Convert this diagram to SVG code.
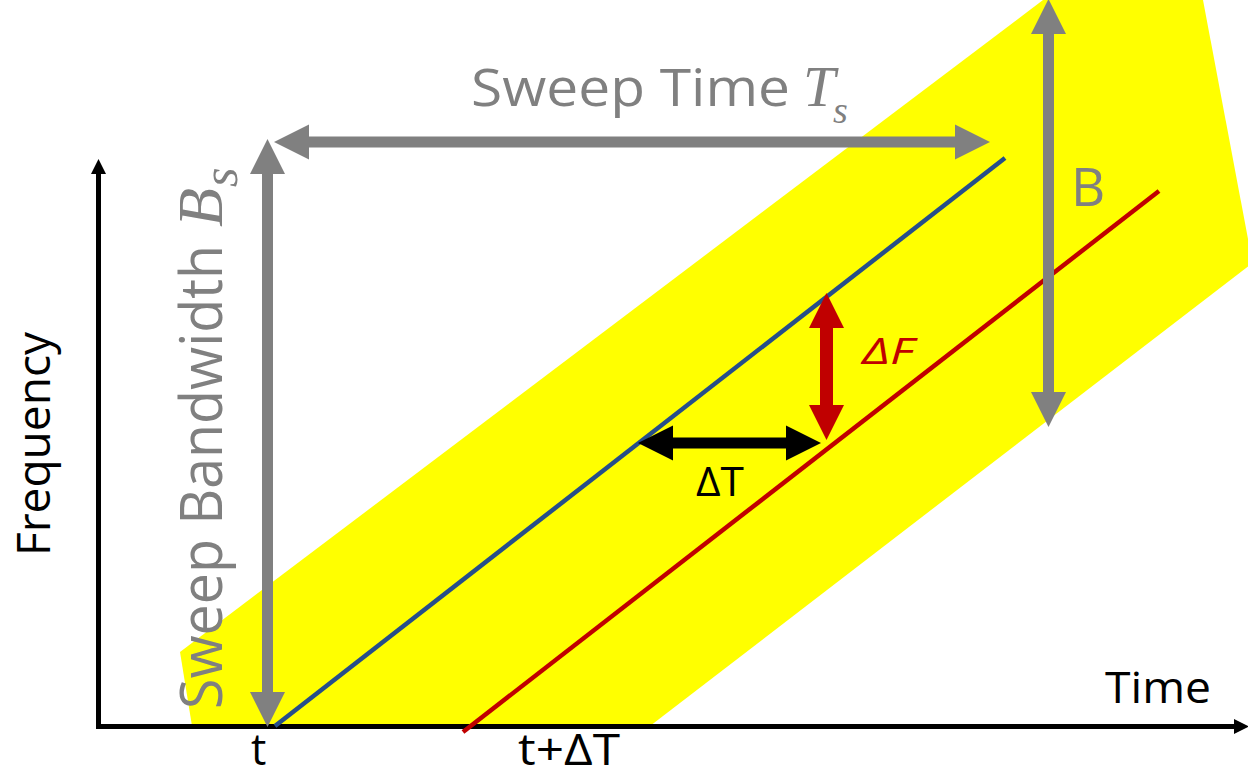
<svg xmlns="http://www.w3.org/2000/svg" width="1248" height="778" viewBox="0 0 1248 778">
<defs>
<style>
.sans{font-family:"Open Sans","Liberation Sans",sans-serif;}
.math{font-family:"Liberation Serif","DejaVu Serif",serif;font-style:italic;}
.gray{fill:#808080;}
.garrow{stroke:#808080;stroke-width:11;fill:none;marker-start:url(#hg);marker-end:url(#hg);}
.axis{stroke:#000;stroke-width:5;fill:none;}
</style>
<marker id="hg" viewBox="0 -18 36 36" refX="0" refY="0" markerWidth="36" markerHeight="36" markerUnits="userSpaceOnUse" orient="auto-start-reverse"><path d="M-1,-18 L35,0 L-1,18 Z" fill="#808080"/></marker>
<marker id="hr" viewBox="0 -18 36 36" refX="0" refY="0" markerWidth="36" markerHeight="36" markerUnits="userSpaceOnUse" orient="auto-start-reverse"><path d="M-1,-18 L35,0 L-1,18 Z" fill="#C00000"/></marker>
<marker id="hb" viewBox="0 -18 36 36" refX="0" refY="0" markerWidth="36" markerHeight="36" markerUnits="userSpaceOnUse" orient="auto-start-reverse"><path d="M-1,-18 L35,0 L-1,18 Z" fill="#000"/></marker>
<marker id="ha" viewBox="0 -8 16 16" refX="0" refY="0" markerWidth="16" markerHeight="16" markerUnits="userSpaceOnUse" orient="auto"><path d="M-1,-8 L15,0 L-1,8 Z" fill="#000"/></marker>
</defs>
<rect width="1248" height="778" fill="#fff"/>
<g id="band"><polygon points="180,652 1043,0 1203,0 1252.5,263 650,726 192,726" fill="#FFFF00"/></g>
<g id="axes">
<path class="axis" d="M98.5,729 L98.5,174" marker-end="url(#ha)"/>
<path class="axis" d="M96,726.5 L1234,726.5" marker-end="url(#ha)"/>
</g>
<g id="chirps">
<line x1="275" y1="726" x2="1005" y2="158" stroke="#264E8A" stroke-width="4.5"/>
<line x1="463" y1="732" x2="1159" y2="191" stroke="#C00000" stroke-width="4.5"/>
</g>
<g id="connectors">
<line class="garrow" x1="309" y1="142" x2="955" y2="142"/>
<line class="garrow" x1="267.5" y1="174" x2="267.5" y2="692"/>
<line class="garrow" x1="1048.5" y1="34" x2="1048.5" y2="392"/>
<line x1="826.5" y1="328" x2="826.5" y2="405" stroke="#C00000" stroke-width="13" marker-start="url(#hr)" marker-end="url(#hr)"/>
<line x1="673" y1="443" x2="786" y2="443" stroke="#000" stroke-width="11" marker-start="url(#hb)" marker-end="url(#hb)"/>
</g>
<g id="label-sweep-time">
<text class="sans gray" x="471" y="106" font-size="51" textLength="319" lengthAdjust="spacingAndGlyphs">Sweep Time</text>
<text class="math gray" x="803" y="106" font-size="58">T</text>
<text class="math gray" x="833" y="123" font-size="38">s</text>
</g>
<g id="label-sweep-bw" transform="translate(222,707) rotate(-90)">
<text class="sans gray" x="-2" y="0" font-size="59" textLength="464" lengthAdjust="spacingAndGlyphs">Sweep Bandwidth</text>
<text class="math gray" x="480" y="0" font-size="64">B</text>
<text class="math gray" x="520" y="15" font-size="50">s</text>
</g>
<g id="label-frequency" transform="translate(50,555) rotate(-90)">
<text class="sans" x="-1" y="0" font-size="46" textLength="224" lengthAdjust="spacingAndGlyphs">Frequency</text>
</g>
<g id="label-B"><text class="sans gray" x="1071" y="206" font-size="53">B</text></g>
<g id="label-dF"><text class="sans" x="862" y="364" font-size="36" font-style="italic" fill="#C00000" textLength="52" lengthAdjust="spacingAndGlyphs">ΔF</text></g>
<g id="label-dT"><text class="sans" x="696" y="496" font-size="41" textLength="48" lengthAdjust="spacingAndGlyphs">ΔT</text></g>
<g id="label-time"><text class="sans" x="1105" y="703" font-size="43" textLength="106" lengthAdjust="spacingAndGlyphs">Time</text></g>
<g id="label-t"><text class="sans" x="251" y="765" font-size="43">t</text></g>
<g id="label-tdT"><text class="sans" x="518" y="765" font-size="43" textLength="102" lengthAdjust="spacingAndGlyphs">t+ΔT</text></g>
</svg>
